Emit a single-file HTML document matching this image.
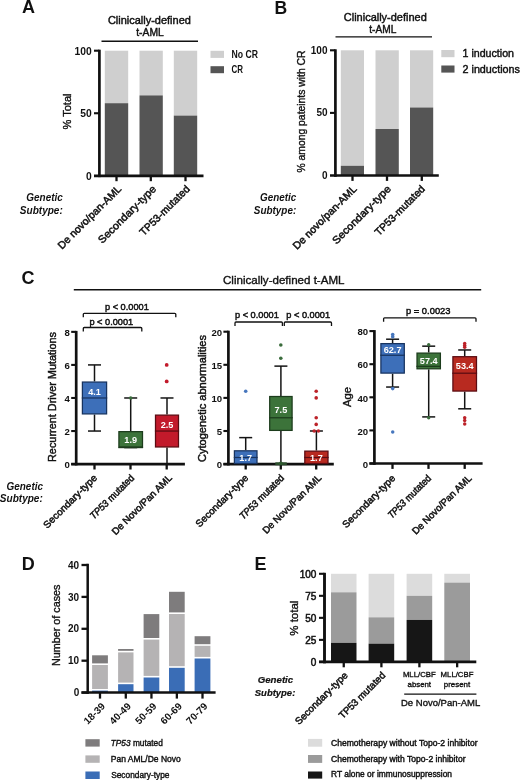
<!DOCTYPE html>
<html><head><meta charset="utf-8"><title>Figure</title>
<style>
html,body{margin:0;padding:0;background:#fff;}
body{width:520px;height:780px;overflow:hidden;font-family:"Liberation Sans", sans-serif;}
svg{display:block;font-family:"Liberation Sans", sans-serif;will-change:transform;}
text{font-family:"Liberation Sans", sans-serif;}
</style></head><body>
<svg width="520" height="780" viewBox="0 0 520 780">
<rect x="0" y="0" width="520" height="780" fill="#ffffff"/>
<text x="21.9" y="12.7" font-size="18" font-weight="bold" text-anchor="start" fill="#111" >A</text>
<text x="274.5" y="13.8" font-size="17.6" font-weight="bold" text-anchor="start" fill="#111" >B</text>
<text x="21.4" y="283.8" font-size="18" font-weight="bold" text-anchor="start" fill="#111" >C</text>
<text x="21.8" y="569.5" font-size="18" font-weight="bold" text-anchor="start" fill="#111" >D</text>
<text x="254.5" y="569.6" font-size="18" font-weight="bold" text-anchor="start" fill="#111" >E</text>
<rect x="104.80" y="50.70" width="23.40" height="52.50" fill="#cfcfcf"/>
<rect x="104.80" y="103.20" width="23.40" height="72.60" fill="#555555"/>
<rect x="139.50" y="50.70" width="23.30" height="44.70" fill="#cfcfcf"/>
<rect x="139.50" y="95.40" width="23.30" height="80.40" fill="#555555"/>
<rect x="173.80" y="50.70" width="23.40" height="64.90" fill="#cfcfcf"/>
<rect x="173.80" y="115.60" width="23.40" height="60.20" fill="#555555"/>
<line x1="99.40" y1="49.70" x2="99.40" y2="177.15" stroke="#111" stroke-width="2.7" stroke-linecap="butt"/>
<line x1="94.00" y1="175.80" x2="203.50" y2="175.80" stroke="#111" stroke-width="2.7" stroke-linecap="butt"/>
<line x1="94.00" y1="50.70" x2="99.40" y2="50.70" stroke="#111" stroke-width="2.1" stroke-linecap="butt"/>
<line x1="94.00" y1="113.25" x2="99.40" y2="113.25" stroke="#111" stroke-width="2.1" stroke-linecap="butt"/>
<line x1="116.50" y1="175.80" x2="116.50" y2="181.20" stroke="#111" stroke-width="2.3" stroke-linecap="butt"/>
<line x1="150.80" y1="175.80" x2="150.80" y2="181.20" stroke="#111" stroke-width="2.3" stroke-linecap="butt"/>
<line x1="185.50" y1="175.80" x2="185.50" y2="181.20" stroke="#111" stroke-width="2.3" stroke-linecap="butt"/>
<line x1="101.50" y1="41.20" x2="198.00" y2="41.20" stroke="#111" stroke-width="1.4" stroke-linecap="butt"/>
<text x="149.4" y="24.2" font-size="10.3" font-weight="normal" text-anchor="middle" fill="#111" stroke="#111" stroke-width="0.42" textLength="83" lengthAdjust="spacingAndGlyphs" >Clinically-defined</text>
<text x="150" y="36.4" font-size="10.3" font-weight="normal" text-anchor="middle" fill="#111" stroke="#111" stroke-width="0.42" textLength="27.5" lengthAdjust="spacingAndGlyphs" >t-AML</text>
<text x="91.8" y="54.8" font-size="10.3" font-weight="bold" text-anchor="end" fill="#111" >100</text>
<text x="91.8" y="117.2" font-size="10.3" font-weight="bold" text-anchor="end" fill="#111" >50</text>
<text x="91.8" y="179.5" font-size="10.3" font-weight="bold" text-anchor="end" fill="#111" >0</text>
<text font-size="10.5" font-weight="normal" text-anchor="middle" fill="#111" stroke="#111" stroke-width="0.36" textLength="36" lengthAdjust="spacingAndGlyphs" transform="translate(70.8,111.5) rotate(-90)" >% Total</text>
<text font-size="10.5" font-weight="normal" text-anchor="end" fill="#111" stroke="#111" stroke-width="0.5" textLength="85" lengthAdjust="spacingAndGlyphs" transform="translate(122.0,189.6) rotate(-45)" >De novo/pan-AML</text>
<text font-size="10.5" font-weight="normal" text-anchor="end" fill="#111" stroke="#111" stroke-width="0.5" textLength="77" lengthAdjust="spacingAndGlyphs" transform="translate(156.70000000000002,189.6) rotate(-45)" >Secondary-type</text>
<text font-size="10.5" font-weight="normal" text-anchor="end" fill="#111" stroke="#111" stroke-width="0.5" textLength="66" lengthAdjust="spacingAndGlyphs" transform="translate(190.5,189.6) rotate(-45)" >TP53-mutated</text>
<rect x="210.50" y="50.80" width="13.50" height="7.10" fill="#cfcfcf"/>
<rect x="210.50" y="66.20" width="13.50" height="7.00" fill="#555555"/>
<text x="231.5" y="57.7" font-size="10.3" font-weight="bold" text-anchor="start" fill="#111" textLength="26.5" lengthAdjust="spacingAndGlyphs" >No CR</text>
<text x="231.5" y="73.2" font-size="10.3" font-weight="bold" text-anchor="start" fill="#111" textLength="11.5" lengthAdjust="spacingAndGlyphs" >CR</text>
<text x="62.8" y="200.8" font-size="10.8" font-weight="bold" text-anchor="end" fill="#111" font-style="italic" textLength="36.5" lengthAdjust="spacingAndGlyphs" >Genetic</text>
<text x="62.8" y="213.5" font-size="10.8" font-weight="bold" text-anchor="end" fill="#111" font-style="italic" textLength="43" lengthAdjust="spacingAndGlyphs" >Subtype:</text>
<rect x="340.80" y="50.30" width="23.20" height="115.50" fill="#cfcfcf"/>
<rect x="340.80" y="165.80" width="23.20" height="9.70" fill="#555555"/>
<rect x="375.50" y="50.30" width="23.30" height="78.70" fill="#cfcfcf"/>
<rect x="375.50" y="129.00" width="23.30" height="46.50" fill="#555555"/>
<rect x="410.00" y="50.30" width="23.20" height="57.20" fill="#cfcfcf"/>
<rect x="410.00" y="107.50" width="23.20" height="68.00" fill="#555555"/>
<line x1="335.40" y1="49.30" x2="335.40" y2="176.85" stroke="#111" stroke-width="2.7" stroke-linecap="butt"/>
<line x1="330.00" y1="175.50" x2="438.80" y2="175.50" stroke="#111" stroke-width="2.7" stroke-linecap="butt"/>
<line x1="330.00" y1="50.30" x2="335.40" y2="50.30" stroke="#111" stroke-width="2.1" stroke-linecap="butt"/>
<line x1="330.00" y1="112.90" x2="335.40" y2="112.90" stroke="#111" stroke-width="2.1" stroke-linecap="butt"/>
<line x1="352.50" y1="175.50" x2="352.50" y2="180.90" stroke="#111" stroke-width="2.3" stroke-linecap="butt"/>
<line x1="387.00" y1="175.50" x2="387.00" y2="180.90" stroke="#111" stroke-width="2.3" stroke-linecap="butt"/>
<line x1="421.80" y1="175.50" x2="421.80" y2="180.90" stroke="#111" stroke-width="2.3" stroke-linecap="butt"/>
<line x1="335.50" y1="36.90" x2="432.00" y2="36.90" stroke="#111" stroke-width="1.4" stroke-linecap="butt"/>
<text x="385.3" y="20.8" font-size="10.3" font-weight="normal" text-anchor="middle" fill="#111" stroke="#111" stroke-width="0.42" textLength="83" lengthAdjust="spacingAndGlyphs" >Clinically-defined</text>
<text x="382.8" y="33.0" font-size="10.3" font-weight="normal" text-anchor="middle" fill="#111" stroke="#111" stroke-width="0.42" textLength="27" lengthAdjust="spacingAndGlyphs" >t-AML</text>
<text x="327.5" y="53.8" font-size="10" font-weight="bold" text-anchor="end" fill="#111" >100</text>
<text x="327.5" y="116.4" font-size="10" font-weight="bold" text-anchor="end" fill="#111" >50</text>
<text x="327.5" y="179" font-size="10" font-weight="bold" text-anchor="end" fill="#111" >0</text>
<text font-size="10" font-weight="normal" text-anchor="middle" fill="#111" stroke="#111" stroke-width="0.36" textLength="122" lengthAdjust="spacingAndGlyphs" transform="translate(305,111.5) rotate(-90)" >% among pateints with CR</text>
<text font-size="10.5" font-weight="normal" text-anchor="end" fill="#111" stroke="#111" stroke-width="0.5" textLength="85.5" lengthAdjust="spacingAndGlyphs" transform="translate(357.5,189.6) rotate(-45)" >De novo/pan-AML</text>
<text font-size="10.5" font-weight="normal" text-anchor="end" fill="#111" stroke="#111" stroke-width="0.5" textLength="78" lengthAdjust="spacingAndGlyphs" transform="translate(391.6,189.6) rotate(-45)" >Secondary-type</text>
<text font-size="10.5" font-weight="normal" text-anchor="end" fill="#111" stroke="#111" stroke-width="0.5" textLength="66" lengthAdjust="spacingAndGlyphs" transform="translate(425.6,189.6) rotate(-45)" >TP53-mutated</text>
<rect x="441.30" y="50.00" width="13.20" height="7.20" fill="#cfcfcf"/>
<rect x="441.30" y="65.50" width="13.20" height="7.10" fill="#555555"/>
<text x="462.5" y="57.4" font-size="10.5" font-weight="normal" text-anchor="start" fill="#111" stroke="#111" stroke-width="0.42" textLength="51.5" lengthAdjust="spacingAndGlyphs" >1 induction</text>
<text x="462.5" y="72.9" font-size="10.5" font-weight="normal" text-anchor="start" fill="#111" stroke="#111" stroke-width="0.42" textLength="57.5" lengthAdjust="spacingAndGlyphs" >2 inductions</text>
<text x="296.2" y="200.8" font-size="10.8" font-weight="bold" text-anchor="end" fill="#111" font-style="italic" textLength="36.2" lengthAdjust="spacingAndGlyphs" >Genetic</text>
<text x="296.2" y="213.5" font-size="10.8" font-weight="bold" text-anchor="end" fill="#111" font-style="italic" textLength="42.4" lengthAdjust="spacingAndGlyphs" >Subtype:</text>
<line x1="73.80" y1="289.80" x2="481.20" y2="289.80" stroke="#111" stroke-width="1.5" stroke-linecap="butt"/>
<text x="223" y="284" font-size="11.5" font-weight="normal" text-anchor="start" fill="#111" stroke="#111" stroke-width="0.36" textLength="121.5" lengthAdjust="spacingAndGlyphs" >Clinically-defined t-AML</text>
<line x1="76.20" y1="330.90" x2="76.20" y2="465.45" stroke="#111" stroke-width="2.7" stroke-linecap="butt"/>
<line x1="71.20" y1="464.10" x2="184.90" y2="464.10" stroke="#111" stroke-width="2.7" stroke-linecap="butt"/>
<line x1="71.20" y1="331.86" x2="76.20" y2="331.86" stroke="#111" stroke-width="2.1" stroke-linecap="butt"/>
<text x="69.9" y="336.06" font-size="9.6" font-weight="bold" text-anchor="end" fill="#111" >8</text>
<line x1="71.20" y1="364.92" x2="76.20" y2="364.92" stroke="#111" stroke-width="2.1" stroke-linecap="butt"/>
<text x="69.9" y="369.12" font-size="9.6" font-weight="bold" text-anchor="end" fill="#111" >6</text>
<line x1="71.20" y1="397.98" x2="76.20" y2="397.98" stroke="#111" stroke-width="2.1" stroke-linecap="butt"/>
<text x="69.9" y="402.18" font-size="9.6" font-weight="bold" text-anchor="end" fill="#111" >4</text>
<line x1="71.20" y1="431.04" x2="76.20" y2="431.04" stroke="#111" stroke-width="2.1" stroke-linecap="butt"/>
<text x="69.9" y="435.24" font-size="9.6" font-weight="bold" text-anchor="end" fill="#111" >2</text>
<line x1="71.20" y1="464.10" x2="76.20" y2="464.10" stroke="#111" stroke-width="2.1" stroke-linecap="butt"/>
<text x="69.9" y="468.3" font-size="9.6" font-weight="bold" text-anchor="end" fill="#111" >0</text>
<line x1="94.50" y1="464.10" x2="94.50" y2="469.50" stroke="#111" stroke-width="2.3" stroke-linecap="butt"/>
<line x1="130.50" y1="464.10" x2="130.50" y2="469.50" stroke="#111" stroke-width="2.3" stroke-linecap="butt"/>
<line x1="166.70" y1="464.10" x2="166.70" y2="469.50" stroke="#111" stroke-width="2.3" stroke-linecap="butt"/>
<path d="M83.3,317.3 V314.3 Q83.3,313.3 84.3,313.3 H174.8 Q175.8,313.3 175.8,314.3 V317.3" fill="none" stroke="#111" stroke-width="1.3"/>
<path d="M83.3,331.5 V328.5 Q83.3,327.5 84.3,327.5 H140.8 Q141.8,327.5 141.8,328.5 V331.5" fill="none" stroke="#111" stroke-width="1.3"/>
<text x="105" y="310" font-size="9.2" font-weight="normal" text-anchor="start" fill="#111" stroke="#111" stroke-width="0.45" textLength="43.8" lengthAdjust="spacingAndGlyphs" >p &lt; 0.0001</text>
<text x="89.4" y="324.8" font-size="9.2" font-weight="normal" text-anchor="start" fill="#111" stroke="#111" stroke-width="0.45" textLength="43.8" lengthAdjust="spacingAndGlyphs" >p &lt; 0.0001</text>
<line x1="94.50" y1="364.92" x2="94.50" y2="381.45" stroke="#141414" stroke-width="1.5" stroke-linecap="butt"/>
<line x1="94.50" y1="414.51" x2="94.50" y2="431.04" stroke="#141414" stroke-width="1.5" stroke-linecap="butt"/>
<line x1="88.00" y1="364.92" x2="101.00" y2="364.92" stroke="#141414" stroke-width="1.5" stroke-linecap="butt"/>
<line x1="88.00" y1="431.04" x2="101.00" y2="431.04" stroke="#141414" stroke-width="1.5" stroke-linecap="butt"/>
<rect x="82.40" y="382.05" width="24.20" height="31.86" fill="#3d6fb9" stroke="#17335f" stroke-width="1.25"/>
<line x1="81.80" y1="397.98" x2="107.20" y2="397.98" stroke="#17335f" stroke-width="1.25" stroke-linecap="butt"/>
<text x="94.5" y="394.5" font-size="9.4" font-weight="bold" text-anchor="middle" fill="#fff" textLength="12.7" lengthAdjust="spacingAndGlyphs" >4.1</text>
<line x1="130.70" y1="397.98" x2="130.70" y2="431.04" stroke="#141414" stroke-width="1.5" stroke-linecap="butt"/>
<line x1="130.70" y1="447.57" x2="130.70" y2="447.57" stroke="#141414" stroke-width="1.5" stroke-linecap="butt"/>
<line x1="124.20" y1="397.98" x2="137.20" y2="397.98" stroke="#141414" stroke-width="1.5" stroke-linecap="butt"/>
<line x1="124.20" y1="447.57" x2="137.20" y2="447.57" stroke="#141414" stroke-width="1.5" stroke-linecap="butt"/>
<rect x="118.90" y="431.64" width="23.60" height="15.33" fill="#3c733a" stroke="#1c3c1c" stroke-width="1.25"/>
<line x1="118.30" y1="447.57" x2="143.10" y2="447.57" stroke="#1c3c1c" stroke-width="1.25" stroke-linecap="butt"/>
<text x="130.7" y="443.1" font-size="9.4" font-weight="bold" text-anchor="middle" fill="#fff" textLength="12.7" lengthAdjust="spacingAndGlyphs" >1.9</text>
<circle cx="130.70" cy="397.98" r="1.8" fill="#3a6c3c"/>
<line x1="167.00" y1="397.98" x2="167.00" y2="414.51" stroke="#141414" stroke-width="1.5" stroke-linecap="butt"/>
<line x1="167.00" y1="447.57" x2="167.00" y2="464.10" stroke="#141414" stroke-width="1.5" stroke-linecap="butt"/>
<line x1="160.50" y1="397.98" x2="173.50" y2="397.98" stroke="#141414" stroke-width="1.5" stroke-linecap="butt"/>
<line x1="160.50" y1="464.10" x2="173.50" y2="464.10" stroke="#141414" stroke-width="1.5" stroke-linecap="butt"/>
<rect x="155.50" y="415.11" width="23.00" height="31.86" fill="#c21a2b" stroke="#5a0c12" stroke-width="1.25"/>
<line x1="154.90" y1="431.04" x2="179.10" y2="431.04" stroke="#5a0c12" stroke-width="1.25" stroke-linecap="butt"/>
<text x="167" y="427.9" font-size="9.4" font-weight="bold" text-anchor="middle" fill="#fff" textLength="12.7" lengthAdjust="spacingAndGlyphs" >2.5</text>
<circle cx="166.70" cy="364.92" r="1.9" fill="#c21a2b"/>
<circle cx="166.70" cy="381.45" r="1.9" fill="#c21a2b"/>
<text font-size="11" font-weight="normal" text-anchor="middle" fill="#111" stroke="#111" stroke-width="0.45" textLength="130" lengthAdjust="spacingAndGlyphs" transform="translate(56,397) rotate(-90)" >Recurrent Driver Mutations</text>
<text font-size="9.8" font-weight="normal" text-anchor="end" fill="#111" stroke="#111" stroke-width="0.5" textLength="71.3" lengthAdjust="spacingAndGlyphs" transform="translate(97.7,478.5) rotate(-45)" >Secondary-type</text>
<text font-size="9.8" font-weight="normal" text-anchor="end" fill="#111" stroke="#111" stroke-width="0.5" textLength="58.3" lengthAdjust="spacingAndGlyphs" transform="translate(134.9,478.5) rotate(-45)" ><tspan font-style="italic">TP53</tspan> mutated</text>
<text font-size="9.8" font-weight="normal" text-anchor="end" fill="#111" stroke="#111" stroke-width="0.5" textLength="80.6" lengthAdjust="spacingAndGlyphs" transform="translate(172.7,478.5) rotate(-45)" >De Novo/Pan AML</text>
<text x="43" y="489.5" font-size="10.8" font-weight="bold" text-anchor="end" fill="#111" font-style="italic" textLength="36.5" lengthAdjust="spacingAndGlyphs" >Genetic</text>
<text x="42.8" y="502.4" font-size="10.8" font-weight="bold" text-anchor="end" fill="#111" font-style="italic" textLength="43" lengthAdjust="spacingAndGlyphs" >Subtype:</text>
<line x1="228.40" y1="330.70" x2="228.40" y2="465.45" stroke="#111" stroke-width="2.7" stroke-linecap="butt"/>
<line x1="223.40" y1="464.10" x2="333.80" y2="464.10" stroke="#111" stroke-width="2.7" stroke-linecap="butt"/>
<line x1="223.40" y1="331.70" x2="228.40" y2="331.70" stroke="#111" stroke-width="2.1" stroke-linecap="butt"/>
<text x="222.1" y="335.90000000000003" font-size="9.6" font-weight="bold" text-anchor="end" fill="#111" >20</text>
<line x1="223.40" y1="364.80" x2="228.40" y2="364.80" stroke="#111" stroke-width="2.1" stroke-linecap="butt"/>
<text x="222.1" y="369.0" font-size="9.6" font-weight="bold" text-anchor="end" fill="#111" >15</text>
<line x1="223.40" y1="397.90" x2="228.40" y2="397.90" stroke="#111" stroke-width="2.1" stroke-linecap="butt"/>
<text x="222.1" y="402.1" font-size="9.6" font-weight="bold" text-anchor="end" fill="#111" >10</text>
<line x1="223.40" y1="431.00" x2="228.40" y2="431.00" stroke="#111" stroke-width="2.1" stroke-linecap="butt"/>
<text x="222.1" y="435.2" font-size="9.6" font-weight="bold" text-anchor="end" fill="#111" >5</text>
<line x1="223.40" y1="464.10" x2="228.40" y2="464.10" stroke="#111" stroke-width="2.1" stroke-linecap="butt"/>
<text x="222.1" y="468.3" font-size="9.6" font-weight="bold" text-anchor="end" fill="#111" >0</text>
<line x1="245.70" y1="464.10" x2="245.70" y2="469.50" stroke="#111" stroke-width="2.3" stroke-linecap="butt"/>
<line x1="280.80" y1="464.10" x2="280.80" y2="469.50" stroke="#111" stroke-width="2.3" stroke-linecap="butt"/>
<line x1="316.20" y1="464.10" x2="316.20" y2="469.50" stroke="#111" stroke-width="2.3" stroke-linecap="butt"/>
<path d="M235,326 V323 Q235,322 236,322 H281.4 Q282.4,322 282.4,323 V326" fill="none" stroke="#111" stroke-width="1.3"/>
<path d="M284.3,326 V323 Q284.3,322 285.3,322 H330.5 Q331.5,322 331.5,323 V326" fill="none" stroke="#111" stroke-width="1.3"/>
<text x="235" y="318" font-size="9.2" font-weight="normal" text-anchor="start" fill="#111" stroke="#111" stroke-width="0.45" textLength="43.8" lengthAdjust="spacingAndGlyphs" >p &lt; 0.0001</text>
<text x="286.3" y="318" font-size="9.2" font-weight="normal" text-anchor="start" fill="#111" stroke="#111" stroke-width="0.45" textLength="43.8" lengthAdjust="spacingAndGlyphs" >p &lt; 0.0001</text>
<line x1="245.70" y1="437.62" x2="245.70" y2="450.20" stroke="#141414" stroke-width="1.5" stroke-linecap="butt"/>
<line x1="245.70" y1="464.10" x2="245.70" y2="464.10" stroke="#141414" stroke-width="1.5" stroke-linecap="butt"/>
<line x1="239.20" y1="437.62" x2="252.20" y2="437.62" stroke="#141414" stroke-width="1.5" stroke-linecap="butt"/>
<line x1="239.20" y1="464.10" x2="252.20" y2="464.10" stroke="#141414" stroke-width="1.5" stroke-linecap="butt"/>
<rect x="234.40" y="450.80" width="22.60" height="12.70" fill="#3d6fb9" stroke="#17335f" stroke-width="1.25"/>
<line x1="233.80" y1="457.48" x2="257.60" y2="457.48" stroke="#17335f" stroke-width="1.25" stroke-linecap="butt"/>
<text x="245.7" y="460.5" font-size="9.4" font-weight="bold" text-anchor="middle" fill="#fff" textLength="12.7" lengthAdjust="spacingAndGlyphs" >1.7</text>
<circle cx="245.70" cy="391.28" r="1.8" fill="#4676bd"/>
<line x1="280.90" y1="366.12" x2="280.90" y2="395.91" stroke="#141414" stroke-width="1.5" stroke-linecap="butt"/>
<line x1="280.90" y1="431.00" x2="280.90" y2="464.10" stroke="#141414" stroke-width="1.5" stroke-linecap="butt"/>
<line x1="274.40" y1="366.12" x2="287.40" y2="366.12" stroke="#141414" stroke-width="1.5" stroke-linecap="butt"/>
<line x1="274.40" y1="464.10" x2="287.40" y2="464.10" stroke="#141414" stroke-width="1.5" stroke-linecap="butt"/>
<rect x="269.70" y="396.51" width="22.40" height="33.89" fill="#3c733a" stroke="#1c3c1c" stroke-width="1.25"/>
<line x1="269.10" y1="417.76" x2="292.70" y2="417.76" stroke="#1c3c1c" stroke-width="1.25" stroke-linecap="butt"/>
<text x="280.9" y="413" font-size="9.4" font-weight="bold" text-anchor="middle" fill="#fff" textLength="12.7" lengthAdjust="spacingAndGlyphs" >7.5</text>
<circle cx="280.80" cy="344.94" r="1.8" fill="#3a6c3c"/>
<circle cx="280.80" cy="358.18" r="1.8" fill="#3a6c3c"/>
<rect x="275.30" y="462.30" width="11.50" height="2.90" fill="#2c4f2d"/>
<circle cx="280.80" cy="463.30" r="1.9" fill="#2f5a30"/>
<line x1="316.40" y1="431.00" x2="316.40" y2="450.53" stroke="#141414" stroke-width="1.5" stroke-linecap="butt"/>
<line x1="316.40" y1="464.10" x2="316.40" y2="464.10" stroke="#141414" stroke-width="1.5" stroke-linecap="butt"/>
<line x1="309.90" y1="431.00" x2="322.90" y2="431.00" stroke="#141414" stroke-width="1.5" stroke-linecap="butt"/>
<line x1="309.90" y1="464.10" x2="322.90" y2="464.10" stroke="#141414" stroke-width="1.5" stroke-linecap="butt"/>
<rect x="304.80" y="451.13" width="23.20" height="12.37" fill="#b82a20" stroke="#5a0c12" stroke-width="1.25"/>
<line x1="304.20" y1="457.48" x2="328.60" y2="457.48" stroke="#5a0c12" stroke-width="1.25" stroke-linecap="butt"/>
<text x="316.4" y="460.5" font-size="9.4" font-weight="bold" text-anchor="middle" fill="#fff" textLength="12.7" lengthAdjust="spacingAndGlyphs" >1.7</text>
<circle cx="316.20" cy="391.28" r="1.8" fill="#bc2229"/>
<circle cx="316.20" cy="397.90" r="1.8" fill="#bc2229"/>
<circle cx="316.20" cy="417.76" r="1.8" fill="#bc2229"/>
<circle cx="316.20" cy="424.38" r="1.8" fill="#bc2229"/>
<circle cx="314.20" cy="431.00" r="1.8" fill="#bc2229"/>
<circle cx="318.40" cy="431.00" r="1.8" fill="#bc2229"/>
<text font-size="11" font-weight="normal" text-anchor="middle" fill="#111" stroke="#111" stroke-width="0.45" textLength="127" lengthAdjust="spacingAndGlyphs" transform="translate(206,398.5) rotate(-90)" >Cytogenetic abnormalities</text>
<text font-size="9.8" font-weight="normal" text-anchor="end" fill="#111" stroke="#111" stroke-width="0.5" textLength="69.6" lengthAdjust="spacingAndGlyphs" transform="translate(248.8,478.5) rotate(-45)" >Secondary-type</text>
<text font-size="9.8" font-weight="normal" text-anchor="end" fill="#111" stroke="#111" stroke-width="0.5" textLength="58.7" lengthAdjust="spacingAndGlyphs" transform="translate(284.8,478.5) rotate(-45)" ><tspan font-style="italic">TP53</tspan> mutated</text>
<text font-size="9.8" font-weight="normal" text-anchor="end" fill="#111" stroke="#111" stroke-width="0.5" textLength="78.8" lengthAdjust="spacingAndGlyphs" transform="translate(322.1,478.5) rotate(-45)" >De Novo/Pan AML</text>
<line x1="374.40" y1="330.10" x2="374.40" y2="464.85" stroke="#111" stroke-width="2.7" stroke-linecap="butt"/>
<line x1="369.40" y1="463.50" x2="482.60" y2="463.50" stroke="#111" stroke-width="2.7" stroke-linecap="butt"/>
<line x1="369.40" y1="331.10" x2="374.40" y2="331.10" stroke="#111" stroke-width="2.1" stroke-linecap="butt"/>
<text x="368.09999999999997" y="335.3" font-size="9.6" font-weight="bold" text-anchor="end" fill="#111" >80</text>
<line x1="369.40" y1="364.20" x2="374.40" y2="364.20" stroke="#111" stroke-width="2.1" stroke-linecap="butt"/>
<text x="368.09999999999997" y="368.4" font-size="9.6" font-weight="bold" text-anchor="end" fill="#111" >60</text>
<line x1="369.40" y1="397.30" x2="374.40" y2="397.30" stroke="#111" stroke-width="2.1" stroke-linecap="butt"/>
<text x="368.09999999999997" y="401.5" font-size="9.6" font-weight="bold" text-anchor="end" fill="#111" >40</text>
<line x1="369.40" y1="430.40" x2="374.40" y2="430.40" stroke="#111" stroke-width="2.1" stroke-linecap="butt"/>
<text x="368.09999999999997" y="434.59999999999997" font-size="9.6" font-weight="bold" text-anchor="end" fill="#111" >20</text>
<line x1="369.40" y1="463.50" x2="374.40" y2="463.50" stroke="#111" stroke-width="2.1" stroke-linecap="butt"/>
<text x="368.09999999999997" y="467.7" font-size="9.6" font-weight="bold" text-anchor="end" fill="#111" >0</text>
<line x1="392.50" y1="463.50" x2="392.50" y2="468.90" stroke="#111" stroke-width="2.3" stroke-linecap="butt"/>
<line x1="428.50" y1="463.50" x2="428.50" y2="468.90" stroke="#111" stroke-width="2.3" stroke-linecap="butt"/>
<line x1="464.70" y1="463.50" x2="464.70" y2="468.90" stroke="#111" stroke-width="2.3" stroke-linecap="butt"/>
<path d="M383.6,321.8 V318.8 Q383.6,317.8 384.6,317.8 H475 Q476,317.8 476,318.8 V321.8" fill="none" stroke="#111" stroke-width="1.3"/>
<text x="406" y="314.2" font-size="9.2" font-weight="normal" text-anchor="start" fill="#111" stroke="#111" stroke-width="0.45" textLength="44.5" lengthAdjust="spacingAndGlyphs" >p = 0.0023</text>
<line x1="392.60" y1="339.21" x2="392.60" y2="343.02" stroke="#141414" stroke-width="1.5" stroke-linecap="butt"/>
<line x1="392.60" y1="373.70" x2="392.60" y2="387.04" stroke="#141414" stroke-width="1.5" stroke-linecap="butt"/>
<line x1="386.10" y1="339.21" x2="399.10" y2="339.21" stroke="#141414" stroke-width="1.5" stroke-linecap="butt"/>
<line x1="386.10" y1="387.04" x2="399.10" y2="387.04" stroke="#141414" stroke-width="1.5" stroke-linecap="butt"/>
<rect x="380.90" y="343.62" width="23.40" height="29.48" fill="#3d6fb9" stroke="#17335f" stroke-width="1.25"/>
<line x1="380.30" y1="355.26" x2="404.90" y2="355.26" stroke="#17335f" stroke-width="1.25" stroke-linecap="butt"/>
<text x="392.6" y="352.9" font-size="9.4" font-weight="bold" text-anchor="middle" fill="#fff" textLength="17.8" lengthAdjust="spacingAndGlyphs" >62.7</text>
<circle cx="392.70" cy="334.60" r="1.8" fill="#4676bd"/>
<circle cx="392.70" cy="336.80" r="1.8" fill="#4676bd"/>
<circle cx="392.70" cy="388.60" r="1.8" fill="#4676bd"/>
<circle cx="392.70" cy="431.90" r="1.75" fill="#4676bd"/>
<line x1="428.70" y1="346.16" x2="428.70" y2="352.50" stroke="#141414" stroke-width="1.5" stroke-linecap="butt"/>
<line x1="428.70" y1="369.40" x2="428.70" y2="416.90" stroke="#141414" stroke-width="1.5" stroke-linecap="butt"/>
<line x1="422.20" y1="346.16" x2="435.20" y2="346.16" stroke="#141414" stroke-width="1.5" stroke-linecap="butt"/>
<line x1="422.20" y1="416.90" x2="435.20" y2="416.90" stroke="#141414" stroke-width="1.5" stroke-linecap="butt"/>
<rect x="417.00" y="353.10" width="23.40" height="15.70" fill="#3c733a" stroke="#1c3c1c" stroke-width="1.25"/>
<line x1="416.40" y1="366.35" x2="441.00" y2="366.35" stroke="#1c3c1c" stroke-width="1.25" stroke-linecap="butt"/>
<text x="428.7" y="363.7" font-size="9.4" font-weight="bold" text-anchor="middle" fill="#fff" textLength="17.8" lengthAdjust="spacingAndGlyphs" >57.4</text>
<circle cx="428.70" cy="344.70" r="1.7" fill="#3a6c3c"/>
<circle cx="428.70" cy="417.80" r="1.7" fill="#3a6c3c"/>
<line x1="464.70" y1="349.97" x2="464.70" y2="356.09" stroke="#141414" stroke-width="1.5" stroke-linecap="butt"/>
<line x1="464.70" y1="391.67" x2="464.70" y2="408.80" stroke="#141414" stroke-width="1.5" stroke-linecap="butt"/>
<line x1="458.20" y1="349.97" x2="471.20" y2="349.97" stroke="#141414" stroke-width="1.5" stroke-linecap="butt"/>
<line x1="458.20" y1="408.80" x2="471.20" y2="408.80" stroke="#141414" stroke-width="1.5" stroke-linecap="butt"/>
<rect x="452.90" y="356.69" width="23.60" height="34.38" fill="#b82a20" stroke="#5a0c12" stroke-width="1.25"/>
<line x1="452.30" y1="373.20" x2="477.10" y2="373.20" stroke="#5a0c12" stroke-width="1.25" stroke-linecap="butt"/>
<text x="464.7" y="369.4" font-size="9.4" font-weight="bold" text-anchor="middle" fill="#fff" textLength="17.8" lengthAdjust="spacingAndGlyphs" >53.4</text>
<circle cx="464.70" cy="343.40" r="1.75" fill="#bc2229"/>
<circle cx="464.70" cy="345.40" r="1.75" fill="#bc2229"/>
<circle cx="464.70" cy="347.30" r="1.75" fill="#bc2229"/>
<circle cx="464.70" cy="417.70" r="1.75" fill="#bc2229"/>
<circle cx="464.70" cy="420.60" r="1.75" fill="#bc2229"/>
<circle cx="464.70" cy="423.90" r="1.75" fill="#bc2229"/>
<text font-size="11.3" font-weight="normal" text-anchor="middle" fill="#111" stroke="#111" stroke-width="0.36" transform="translate(350.8,397) rotate(-90)" >Age</text>
<text font-size="9.8" font-weight="normal" text-anchor="end" fill="#111" stroke="#111" stroke-width="0.5" textLength="70.2" lengthAdjust="spacingAndGlyphs" transform="translate(395.9,478.9) rotate(-45)" >Secondary-type</text>
<text font-size="9.8" font-weight="normal" text-anchor="end" fill="#111" stroke="#111" stroke-width="0.5" textLength="56.8" lengthAdjust="spacingAndGlyphs" transform="translate(431.8,478.9) rotate(-45)" ><tspan font-style="italic">TP53</tspan> mutated</text>
<text font-size="9.8" font-weight="normal" text-anchor="end" fill="#111" stroke="#111" stroke-width="0.5" textLength="79.5" lengthAdjust="spacingAndGlyphs" transform="translate(472.2,478.9) rotate(-45)" >De Novo/Pan AML</text>
<rect x="92.10" y="655.30" width="15.80" height="8.10" fill="#7e7c7d"/>
<rect x="92.10" y="665.00" width="15.80" height="24.00" fill="#b5b3b4"/>
<rect x="92.10" y="690.60" width="15.80" height="2.00" fill="#3a6db6"/>
<rect x="118.10" y="649.00" width="15.40" height="1.80" fill="#7e7c7d"/>
<rect x="118.10" y="652.40" width="15.40" height="30.20" fill="#b5b3b4"/>
<rect x="118.10" y="684.20" width="15.40" height="8.40" fill="#3a6db6"/>
<rect x="143.60" y="614.10" width="15.70" height="23.90" fill="#7e7c7d"/>
<rect x="143.60" y="639.60" width="15.70" height="36.30" fill="#b5b3b4"/>
<rect x="143.60" y="677.50" width="15.70" height="15.10" fill="#3a6db6"/>
<rect x="169.00" y="591.80" width="15.70" height="20.60" fill="#7e7c7d"/>
<rect x="169.00" y="614.00" width="15.70" height="52.20" fill="#b5b3b4"/>
<rect x="169.00" y="667.80" width="15.70" height="24.80" fill="#3a6db6"/>
<rect x="194.60" y="636.20" width="15.80" height="8.00" fill="#7e7c7d"/>
<rect x="194.60" y="645.80" width="15.80" height="11.10" fill="#b5b3b4"/>
<rect x="194.60" y="658.50" width="15.80" height="34.10" fill="#3a6db6"/>
<line x1="87.70" y1="563.75" x2="87.70" y2="693.85" stroke="#111" stroke-width="2.5" stroke-linecap="butt"/>
<line x1="81.50" y1="692.60" x2="215.60" y2="692.60" stroke="#111" stroke-width="2.5" stroke-linecap="butt"/>
<line x1="81.50" y1="565.00" x2="87.70" y2="565.00" stroke="#111" stroke-width="2.3" stroke-linecap="butt"/>
<text x="79.2" y="568.6" font-size="10" font-weight="bold" text-anchor="end" fill="#111" >40</text>
<line x1="81.50" y1="596.90" x2="87.70" y2="596.90" stroke="#111" stroke-width="2.3" stroke-linecap="butt"/>
<text x="79.2" y="600.5" font-size="10" font-weight="bold" text-anchor="end" fill="#111" >30</text>
<line x1="81.50" y1="628.80" x2="87.70" y2="628.80" stroke="#111" stroke-width="2.3" stroke-linecap="butt"/>
<text x="79.2" y="632.4000000000001" font-size="10" font-weight="bold" text-anchor="end" fill="#111" >20</text>
<line x1="81.50" y1="660.70" x2="87.70" y2="660.70" stroke="#111" stroke-width="2.3" stroke-linecap="butt"/>
<text x="79.2" y="664.3000000000001" font-size="10" font-weight="bold" text-anchor="end" fill="#111" >10</text>
<line x1="81.50" y1="692.60" x2="87.70" y2="692.60" stroke="#111" stroke-width="2.3" stroke-linecap="butt"/>
<text x="79.2" y="696.2" font-size="10" font-weight="bold" text-anchor="end" fill="#111" >0</text>
<line x1="100.00" y1="692.60" x2="100.00" y2="698.60" stroke="#111" stroke-width="2.3" stroke-linecap="butt"/>
<text font-size="10" font-weight="bold" text-anchor="end" fill="#111" transform="translate(105.8,706.8) rotate(-45)" >18-39</text>
<line x1="125.80" y1="692.60" x2="125.80" y2="698.60" stroke="#111" stroke-width="2.3" stroke-linecap="butt"/>
<text font-size="10" font-weight="bold" text-anchor="end" fill="#111" transform="translate(131.6,706.8) rotate(-45)" >40-49</text>
<line x1="151.45" y1="692.60" x2="151.45" y2="698.60" stroke="#111" stroke-width="2.3" stroke-linecap="butt"/>
<text font-size="10" font-weight="bold" text-anchor="end" fill="#111" transform="translate(157.25,706.8) rotate(-45)" >50-59</text>
<line x1="176.85" y1="692.60" x2="176.85" y2="698.60" stroke="#111" stroke-width="2.3" stroke-linecap="butt"/>
<text font-size="10" font-weight="bold" text-anchor="end" fill="#111" transform="translate(182.65,706.8) rotate(-45)" >60-69</text>
<line x1="202.50" y1="692.60" x2="202.50" y2="698.60" stroke="#111" stroke-width="2.3" stroke-linecap="butt"/>
<text font-size="10" font-weight="bold" text-anchor="end" fill="#111" transform="translate(208.3,706.8) rotate(-45)" >70-79</text>
<text font-size="11.3" font-weight="normal" text-anchor="middle" fill="#111" stroke="#111" stroke-width="0.36" textLength="81.5" lengthAdjust="spacingAndGlyphs" transform="translate(60,625.3) rotate(-90)" >Number of cases</text>
<rect x="85.40" y="739.20" width="14.30" height="7.40" fill="#7e7c7d"/>
<rect x="85.40" y="755.40" width="14.30" height="7.40" fill="#b5b3b4"/>
<rect x="85.40" y="771.50" width="14.30" height="7.50" fill="#3a6db6"/>
<text x="110.8" y="746.4" font-size="8.7" font-weight="normal" text-anchor="start" fill="#111" stroke="#111" stroke-width="0.4" textLength="52" lengthAdjust="spacingAndGlyphs" ><tspan font-style="italic">TP53</tspan> mutated</text>
<text x="110.8" y="762.3" font-size="8.7" font-weight="normal" text-anchor="start" fill="#111" stroke="#111" stroke-width="0.4" textLength="70" lengthAdjust="spacingAndGlyphs" >Pan AML/De Novo</text>
<text x="111.2" y="777.5" font-size="8.7" font-weight="normal" text-anchor="start" fill="#111" stroke="#111" stroke-width="0.4" textLength="58.3" lengthAdjust="spacingAndGlyphs" >Secondary-type</text>
<rect x="331.00" y="573.80" width="25.50" height="18.50" fill="#dcdcdc"/>
<rect x="331.00" y="592.30" width="25.50" height="50.57" fill="#9b9b9b"/>
<rect x="331.00" y="642.87" width="25.50" height="19.03" fill="#161616"/>
<rect x="368.60" y="573.80" width="25.60" height="43.52" fill="#dcdcdc"/>
<rect x="368.60" y="617.32" width="25.60" height="26.34" fill="#9b9b9b"/>
<rect x="368.60" y="643.66" width="25.60" height="18.24" fill="#161616"/>
<rect x="406.60" y="573.80" width="25.60" height="22.02" fill="#dcdcdc"/>
<rect x="406.60" y="595.82" width="25.60" height="24.14" fill="#9b9b9b"/>
<rect x="406.60" y="619.96" width="25.60" height="41.94" fill="#161616"/>
<rect x="444.30" y="573.80" width="25.70" height="8.81" fill="#dcdcdc"/>
<rect x="444.30" y="582.61" width="25.70" height="79.29" fill="#9b9b9b"/>
<line x1="324.50" y1="572.80" x2="324.50" y2="663.35" stroke="#111" stroke-width="2.9" stroke-linecap="butt"/>
<line x1="319.00" y1="661.90" x2="476.30" y2="661.90" stroke="#111" stroke-width="2.9" stroke-linecap="butt"/>
<line x1="319.00" y1="573.80" x2="324.50" y2="573.80" stroke="#111" stroke-width="2.1" stroke-linecap="butt"/>
<text x="316.4" y="577.5" font-size="10" font-weight="normal" text-anchor="end" fill="#111" stroke="#111" stroke-width="0.5" >100</text>
<line x1="319.00" y1="595.82" x2="324.50" y2="595.82" stroke="#111" stroke-width="2.1" stroke-linecap="butt"/>
<text x="316.4" y="599.525" font-size="10" font-weight="normal" text-anchor="end" fill="#111" stroke="#111" stroke-width="0.5" >75</text>
<line x1="319.00" y1="617.85" x2="324.50" y2="617.85" stroke="#111" stroke-width="2.1" stroke-linecap="butt"/>
<text x="316.4" y="621.5500000000001" font-size="10" font-weight="normal" text-anchor="end" fill="#111" stroke="#111" stroke-width="0.5" >50</text>
<line x1="319.00" y1="639.88" x2="324.50" y2="639.88" stroke="#111" stroke-width="2.1" stroke-linecap="butt"/>
<text x="316.4" y="643.575" font-size="10" font-weight="normal" text-anchor="end" fill="#111" stroke="#111" stroke-width="0.5" >25</text>
<line x1="319.00" y1="661.90" x2="324.50" y2="661.90" stroke="#111" stroke-width="2.1" stroke-linecap="butt"/>
<text x="316.4" y="665.6" font-size="10" font-weight="normal" text-anchor="end" fill="#111" stroke="#111" stroke-width="0.5" >0</text>
<line x1="343.75" y1="661.90" x2="343.75" y2="667.30" stroke="#111" stroke-width="2.3" stroke-linecap="butt"/>
<line x1="381.40" y1="661.90" x2="381.40" y2="667.30" stroke="#111" stroke-width="2.3" stroke-linecap="butt"/>
<line x1="419.40" y1="661.90" x2="419.40" y2="667.30" stroke="#111" stroke-width="2.3" stroke-linecap="butt"/>
<line x1="457.15" y1="661.90" x2="457.15" y2="667.30" stroke="#111" stroke-width="2.3" stroke-linecap="butt"/>
<text font-size="11.4" font-weight="normal" text-anchor="middle" fill="#111" stroke="#111" stroke-width="0.36" textLength="35" lengthAdjust="spacingAndGlyphs" transform="translate(297.6,618.2) rotate(-90)" >% total</text>
<text font-size="9.8" font-weight="normal" text-anchor="end" fill="#111" stroke="#111" stroke-width="0.5" textLength="69.8" lengthAdjust="spacingAndGlyphs" transform="translate(348.3,676.0) rotate(-45)" >Secondary-type</text>
<text font-size="9.8" font-weight="normal" text-anchor="end" fill="#111" stroke="#111" stroke-width="0.5" textLength="61.2" lengthAdjust="spacingAndGlyphs" transform="translate(386,676.0) rotate(-45)" >TP53 mutated</text>
<text x="419.3" y="676.8" font-size="7.8" font-weight="normal" text-anchor="middle" fill="#111" stroke="#111" stroke-width="0.35" textLength="32.8" lengthAdjust="spacingAndGlyphs" >MLL/CBF</text>
<text x="419.3" y="686.8" font-size="7.8" font-weight="normal" text-anchor="middle" fill="#111" stroke="#111" stroke-width="0.35" textLength="23.5" lengthAdjust="spacingAndGlyphs" >absent</text>
<text x="457" y="676.8" font-size="7.8" font-weight="normal" text-anchor="middle" fill="#111" stroke="#111" stroke-width="0.35" textLength="32.8" lengthAdjust="spacingAndGlyphs" >MLL/CBF</text>
<text x="457" y="686.8" font-size="7.8" font-weight="normal" text-anchor="middle" fill="#111" stroke="#111" stroke-width="0.35" textLength="26.4" lengthAdjust="spacingAndGlyphs" >present</text>
<line x1="404.20" y1="694.20" x2="476.40" y2="694.20" stroke="#111" stroke-width="1.3" stroke-linecap="butt"/>
<text x="440.6" y="705.5" font-size="9.6" font-weight="normal" text-anchor="middle" fill="#111" stroke="#111" stroke-width="0.35" textLength="79.2" lengthAdjust="spacingAndGlyphs" >De Novo/Pan-AML</text>
<text x="293.2" y="683.3" font-size="9.8" font-weight="bold" text-anchor="end" fill="#111" stroke="#111" stroke-width="0.2" font-style="italic" textLength="35.5" lengthAdjust="spacingAndGlyphs" >Genetic</text>
<text x="295.3" y="695.6" font-size="9.8" font-weight="bold" text-anchor="end" fill="#111" stroke="#111" stroke-width="0.2" font-style="italic" textLength="40.5" lengthAdjust="spacingAndGlyphs" >Subtype:</text>
<rect x="308.00" y="738.90" width="14.20" height="7.80" fill="#dcdcdc"/>
<rect x="308.00" y="755.00" width="14.20" height="7.90" fill="#9b9b9b"/>
<rect x="308.00" y="771.50" width="14.20" height="7.10" fill="#161616"/>
<text x="331" y="745.9" font-size="8.5" font-weight="normal" text-anchor="start" fill="#111" stroke="#111" stroke-width="0.42" textLength="146.5" lengthAdjust="spacingAndGlyphs" >Chemotherapy without Topo-2 inhibitor</text>
<text x="331" y="761.7" font-size="8.5" font-weight="normal" text-anchor="start" fill="#111" stroke="#111" stroke-width="0.42" textLength="134.5" lengthAdjust="spacingAndGlyphs" >Chemotherapy with Topo-2 inhibitor</text>
<text x="331" y="777.1" font-size="8.5" font-weight="normal" text-anchor="start" fill="#111" stroke="#111" stroke-width="0.42" textLength="121" lengthAdjust="spacingAndGlyphs" >RT alone or immunosuppression</text>
</svg>
</body></html>
